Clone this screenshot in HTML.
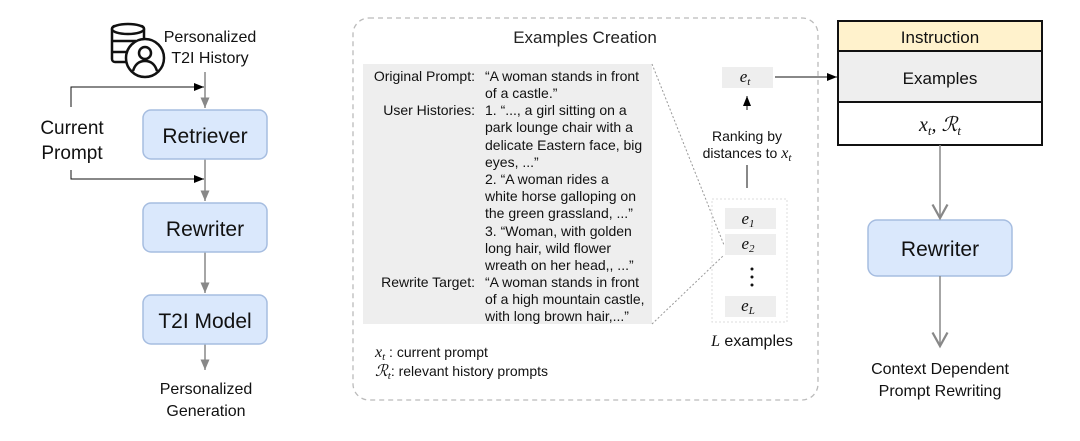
<!DOCTYPE html>
<html><head><meta charset="utf-8"><style>
body{margin:0;background:#fff}
svg{display:block;font-family:"Liberation Sans",sans-serif}
.m{font-family:"Liberation Serif",serif;font-style:italic}
</style></head><body>
<svg width="1080" height="441" viewBox="0 0 1080 441">
<defs>
<marker id="a" markerUnits="userSpaceOnUse" markerWidth="12" markerHeight="12" refX="10" refY="5" orient="auto"><path d="M0,1 L10,5 L0,9Z" fill="#000"/></marker>
<marker id="g" markerWidth="8" markerHeight="8" refX="7" refY="4" orient="auto"><path d="M0,1 L7,4 L0,7Z" fill="#888"/></marker>
<marker id="o" markerWidth="14" markerHeight="14" refX="10" refY="6" orient="auto"><path d="M1,1 L10,6 L1,11" fill="none" stroke="#888" stroke-width="1.5"/></marker>
</defs>
<g fill="#fff" stroke="#111" stroke-width="2.5">
<rect x="112" y="26" width="32" height="36" rx="3"/>
<ellipse cx="128" cy="29" rx="16" ry="5"/>
<line x1="112" y1="41" x2="136" y2="41"/><line x1="112" y1="52" x2="128" y2="52"/>
<circle cx="145" cy="58" r="19"/>
<circle cx="145" cy="53" r="6"/>
<path d="M133,71 Q136,61 145,61 Q154,61 157,71"/>
</g>
<g font-size="16" text-anchor="middle" fill="#111">
<text x="210" y="42">Personalized</text><text x="210" y="63">T2I History</text>
<text x="72" y="134" font-size="19">Current</text><text x="72" y="159" font-size="19">Prompt</text>
<text x="206" y="394">Personalized</text><text x="206" y="416">Generation</text>
</g>
<g stroke="#888" stroke-width="1.5">
<line x1="205" y1="72" x2="205" y2="108" marker-end="url(#g)"/>
<line x1="205" y1="159" x2="205" y2="201" marker-end="url(#g)"/>
<line x1="205" y1="252" x2="205" y2="293" marker-end="url(#g)"/>
<line x1="205" y1="344" x2="205" y2="370" marker-end="url(#g)"/>
</g>
<g stroke="#111" stroke-width="1" fill="none">
<polyline points="71,107 71,87 204,87" marker-end="url(#a)"/>
<polyline points="71,170 71,179 204,179" marker-end="url(#a)"/>
</g>
<g fill="#dae8fc" stroke="#a6bde0" stroke-width="1.5">
<rect x="143" y="110" width="124" height="49" rx="8"/>
<rect x="143" y="203" width="124" height="49" rx="8"/>
<rect x="143" y="295" width="124" height="49" rx="8"/>
<rect x="868" y="220" width="144" height="56" rx="9"/>
</g>
<g font-size="21" text-anchor="middle" fill="#111">
<text x="205" y="143">Retriever</text><text x="205" y="236">Rewriter</text><text x="205" y="328">T2I Model</text>
<text x="940" y="256">Rewriter</text>
</g>
<rect x="353" y="18" width="465" height="382" rx="16" fill="none" stroke="#bbb" stroke-width="1.3" stroke-dasharray="5,4"/>
<text x="585" y="43" font-size="17" text-anchor="middle" fill="#222">Examples Creation</text>
<rect x="363" y="64" width="289" height="260" fill="#eee"/>
<g stroke="#999" stroke-dasharray="2,2" fill="none">
<line x1="652" y1="64" x2="724" y2="245"/><line x1="652" y1="324" x2="724" y2="255"/>
<rect x="712" y="199" width="75" height="123" stroke="#ddd"/>
</g>
<g font-size="14" fill="#111">
<g text-anchor="end"><text x="475" y="81">Original Prompt:</text><text x="475" y="115">User Histories:</text><text x="475" y="287">Rewrite Target:</text></g>
<text x="485" y="81">“A woman stands in front</text>
<text x="485" y="98">of a castle.”</text>
<text x="485" y="115">1. “..., a girl sitting on a</text>
<text x="485" y="132">park lounge chair with a</text>
<text x="485" y="150">delicate Eastern face, big</text>
<text x="485" y="167">eyes, ...”</text>
<text x="485" y="184">2. “A woman rides a</text>
<text x="485" y="201">white horse galloping on</text>
<text x="485" y="218">the green grassland, ...”</text>
<text x="485" y="236">3. “Woman, with golden</text>
<text x="485" y="253">long hair, wild flower</text>
<text x="485" y="270">wreath on her head,, ...”</text>
<text x="485" y="287">“A woman stands in front</text>
<text x="485" y="304">of a high mountain castle,</text>
<text x="485" y="321">with long brown hair,...”</text>
<text x="375" y="357"><tspan class="m" font-size="16">x</tspan><tspan class="m" font-size="11" dy="3">t</tspan><tspan dy="-3"> : current prompt</tspan></text>
<text x="375" y="376"><tspan class="m" font-size="16">ℛ</tspan><tspan class="m" font-size="11" dy="3">t</tspan><tspan dy="-3">: relevant history prompts</tspan></text>
<text x="747" y="141" text-anchor="middle">Ranking by</text>
<text x="747" y="158" text-anchor="middle">distances to <tspan class="m" font-size="16">x</tspan><tspan class="m" font-size="11" dy="3">t</tspan></text>
<text x="752" y="346" text-anchor="middle" font-size="16"><tspan class="m">L</tspan> examples</text>
</g>
<g fill="#eee">
<rect x="722" y="67" width="51" height="21"/>
<rect x="725" y="208" width="51" height="21"/><rect x="725" y="234" width="51" height="21"/><rect x="725" y="296" width="51" height="21"/>
</g>
<g class="m" font-size="17" text-anchor="middle" fill="#111">
<text x="745" y="82">e<tspan font-size="11" dy="3">t</tspan></text>
<text x="748" y="224">e<tspan font-size="11" dy="3">1</tspan></text>
<text x="748" y="249">e<tspan font-size="11" dy="3">2</tspan></text>
<text x="748" y="311">e<tspan font-size="11" dy="3">L</tspan></text>
</g>
<g fill="#111"><circle cx="752" cy="269" r="1.5"/><circle cx="752" cy="277" r="1.5"/><circle cx="752" cy="285" r="1.5"/></g>
<g stroke="#111" stroke-width="1">
<line x1="747" y1="110" x2="747" y2="96" marker-end="url(#a)"/>
<line x1="747" y1="165" x2="747" y2="188"/>
<line x1="775" y1="77" x2="837" y2="77" marker-end="url(#a)"/>
</g>
<g stroke="#111" stroke-width="2">
<rect x="838" y="21" width="204" height="30" fill="#fff2cc"/>
<rect x="838" y="51" width="204" height="51" fill="#eee"/>
<rect x="838" y="102" width="204" height="43" fill="#fff"/>
</g>
<g text-anchor="middle" fill="#111" font-size="17">
<text x="940" y="43">Instruction</text><text x="940" y="84">Examples</text>
<text x="940" y="131" class="m" font-size="20">x<tspan font-size="13" dy="4">t</tspan><tspan dy="-4">, ℛ</tspan><tspan font-size="13" dy="4">t</tspan></text>
<text x="940" y="374" font-size="16">Context Dependent</text><text x="940" y="396" font-size="16">Prompt Rewriting</text>
</g>
<g stroke="#888" stroke-width="1.5">
<line x1="940" y1="145" x2="940" y2="218" marker-end="url(#o)"/>
<line x1="940" y1="276" x2="940" y2="346" marker-end="url(#o)"/>
</g>
</svg>
</body></html>
